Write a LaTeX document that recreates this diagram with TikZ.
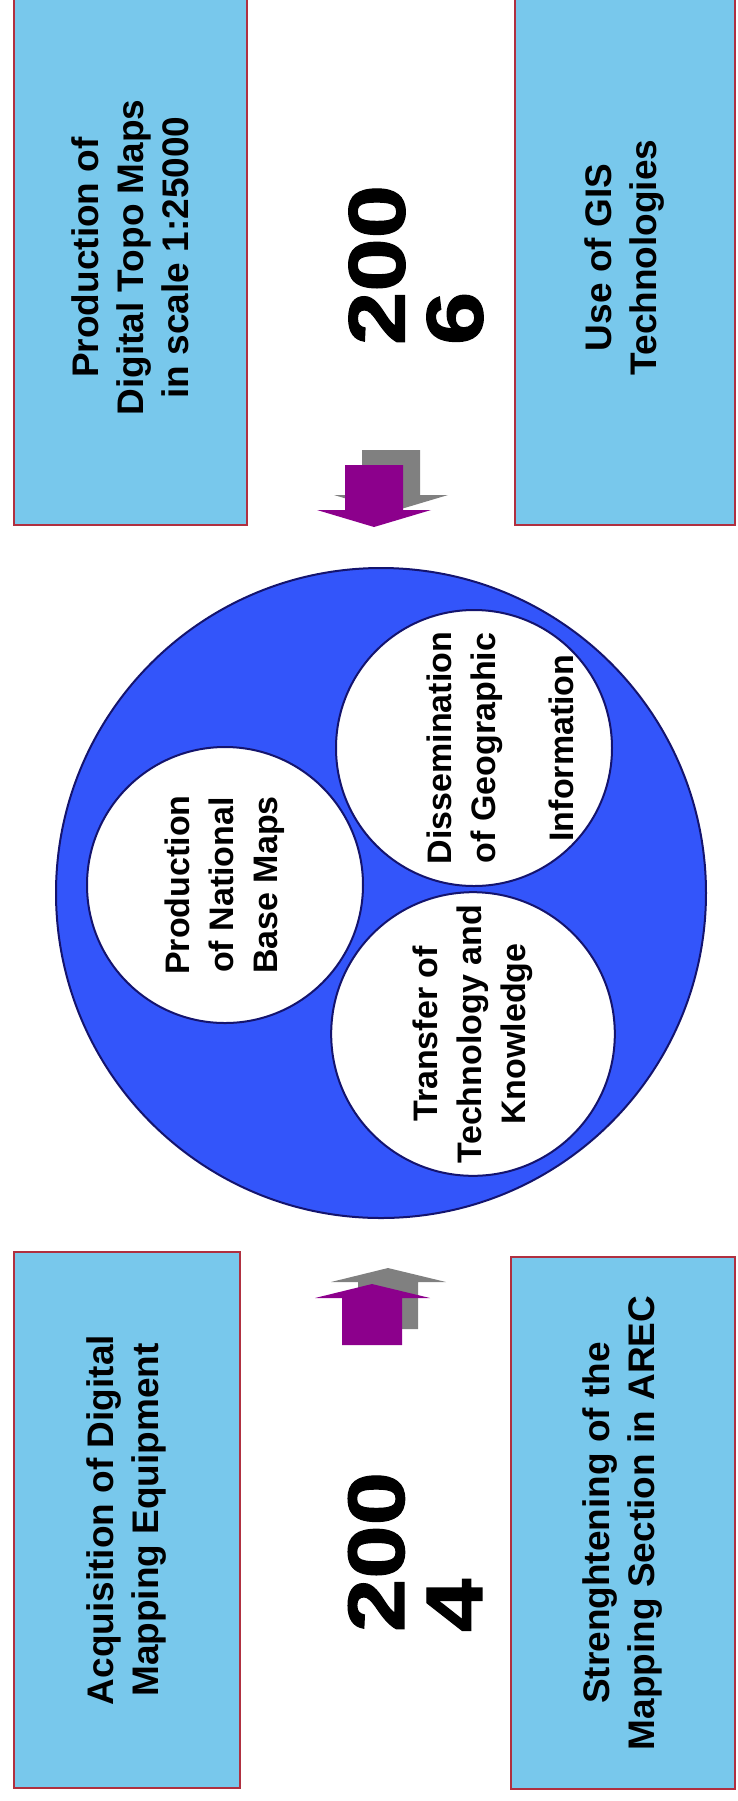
\documentclass[tikz,border=0pt]{standalone}
\usepackage{fontspec}
\setmainfont{Liberation Sans}
\newfontfamily\yearfont[FakeStretch=1.2,FakeBold=1.5]{Liberation Sans}
\usepackage{tikz}

\definecolor{boxblue}{RGB}{120,200,236}
\definecolor{boxred}{RGB}{176,48,64}
\definecolor{coreblue}{RGB}{51,85,250}
\definecolor{navy}{RGB}{20,20,110}
\definecolor{arrowpurple}{RGB}{140,0,140}
\definecolor{shadowgray}{RGB}{128,128,128}

\begin{document}
\begin{tikzpicture}[x=0.5pt,y=-0.5pt,
  topic/.style={draw=boxred,line width=1pt,fill=boxblue,rotate=90,align=center,inner sep=0pt,
    font=\bfseries\fontsize{18.5}{22.5}\selectfont},
  year/.style={rotate=90,align=left,inner sep=0pt,font=\yearfont\bfseries\fontsize{40}{39}\selectfont},
  aim/.style={circle,draw=navy,line width=1pt,fill=white,minimum size=138pt,inner sep=0pt,
    rotate=90,align=center,font=\bfseries\fontsize{17}{22}\selectfont}]
\useasboundingbox (0,0) rectangle (738,1801);
% Boxes
\node[topic,minimum width=267.5pt,minimum height=116.5pt] (prod) at (130.5,257.5) {Production of\\Digital Topo Maps\\in scale 1:25000};
\node[topic,minimum width=267.5pt,minimum height=110pt] (gis) at (625,257.5) {Use of GIS\\Technologies};
\node[topic,minimum width=268pt,minimum height=113pt] (acq) at (127,1520) {Acquisition of Digital\\Mapping Equipment};
\node[topic,minimum width=266pt,minimum height=112pt] (arec) at (623,1523) {Strenghtening of the\\Mapping Section in AREC};
% Years
\node[year] (y06) at (416,265) {200\\6};
\node[year] (y04) at (415,1552) {200\\4};
% Big circle with the three aims
\node[circle,draw=navy,line width=1pt,fill=coreblue,minimum size=325pt,inner sep=0pt] (core) at (381,893) {};
\node[aim] (natl) at (225,885) {Production\\of National\\Base Maps};
\node[aim] (dissem) at (474,748) {};
\node[aim] (transf) at (473,1034) {Transfer of\\Technology and\\Knowledge};
\node[rotate=90,align=center,inner sep=0pt,font=\bfseries\fontsize{17}{22}\selectfont] (dissemtxt)
  at ([xshift=13pt]dissem.center) {Dissemination\\of Geographic\\[17pt]Information};
% Block arrows (shadow first)
\foreach \dx/\dy/\c in {17/-15/shadowgray,0/0/arrowpurple} {
  \fill[\c,shift={(\dx,\dy)}] (345,465) -- (403,465) -- (403,510) -- (431,510) -- (374,527)
    -- (317,510) -- (345,510) -- cycle;
}
\foreach \dx/\dy/\c in {16/-16/shadowgray,0/0/arrowpurple} {
  \fill[\c,shift={(\dx,\dy)}] (342,1345) -- (402,1345) -- (402,1298) -- (430,1298) -- (372,1284)
    -- (315,1298) -- (342,1298) -- cycle;
}
\end{tikzpicture}
\end{document}
